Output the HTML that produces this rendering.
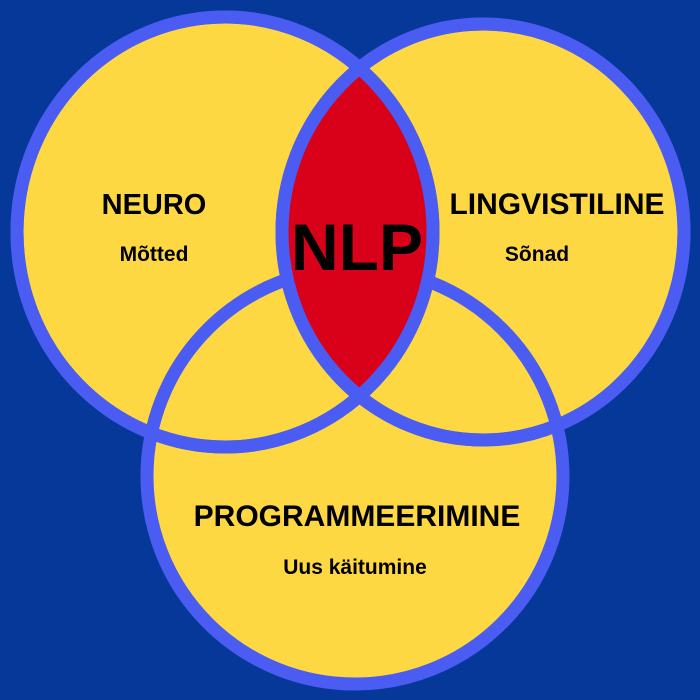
<!DOCTYPE html>
<html><head><meta charset="utf-8"><style>html,body{margin:0;padding:0;background:#06389a;}svg{display:block}</style></head>
<body>
<svg width="700" height="700" viewBox="0 0 700 700" xmlns="http://www.w3.org/2000/svg">
<defs>
<clipPath id="cl"><ellipse cx="225" cy="232" rx="208" ry="215"/></clipPath>
</defs>
<rect width="700" height="700" fill="#06389a"/>
<g fill="#fdd843">
<ellipse cx="225" cy="232" rx="208" ry="215"/>
<ellipse cx="483" cy="232" rx="201" ry="208"/>
<ellipse cx="355" cy="476" rx="208" ry="208"/>
</g>
<g fill="none" stroke="#4a5cf2" stroke-width="13">
<ellipse cx="355" cy="476" rx="208" ry="208"/>
<ellipse cx="225" cy="232" rx="208" ry="215"/>
<ellipse cx="483" cy="232" rx="201" ry="208"/>
</g>
<ellipse cx="483" cy="232" rx="201" ry="208" fill="#d9001a" clip-path="url(#cl)"/>
<g fill="none" stroke="#4a5cf2" stroke-width="13">
<ellipse cx="225" cy="232" rx="208" ry="215"/>
<ellipse cx="483" cy="232" rx="201" ry="208"/>
</g>
<g font-family="Liberation Sans, sans-serif" font-weight="bold" fill="#000" text-anchor="middle">
<text x="154" y="214" font-size="29">NEURO</text>
<text x="154" y="261" font-size="21">Mõtted</text>
<text x="557" y="214" font-size="30">LINGVISTILINE</text>
<text x="537" y="261" font-size="21">Sõnad</text>
<text x="357" y="270" font-size="66">NLP</text>
<text x="357" y="526" font-size="30">PROGRAMMEERIMINE</text>
<text x="355" y="574" font-size="21">Uus käitumine</text>
</g>
</svg>
</body></html>
